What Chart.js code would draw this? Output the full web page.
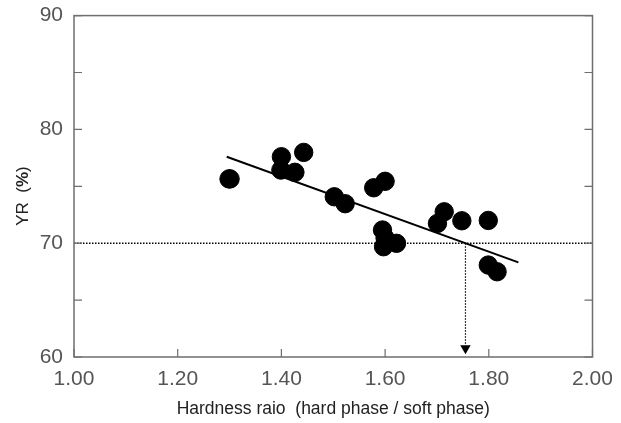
<!DOCTYPE html>
<html>
<head>
<meta charset="utf-8">
<script src="https://cdn.jsdelivr.net/npm/chart.js@4"></script>
<style>
    html, body { margin: 0; padding: 0; background: #fff; }
    #wrap { width: 621px; height: 423px; }
</style>
</head>
<body>
<div id="wrap"><canvas id="yrChart" width="621" height="423"></canvas></div>
<script>
// measured points: hardness ratio vs yield ratio
const hardnessRatio = [1.299, 1.301, 1.400, 1.399, 1.426, 1.443, 1.502, 1.523, 1.578, 1.600,
    1.595, 1.600, 1.622, 1.597, 1.714, 1.701, 1.748, 1.799, 1.799, 1.816];
const yieldRatio = [75.65, 75.65, 77.60, 76.43, 76.23, 77.98, 74.08, 73.47, 74.87, 75.44,
    71.16, 70.45, 69.99, 69.69, 72.76, 71.74, 71.97, 72.00, 68.08, 67.49];

// regression line end points
const fitX = [1.2945, 1.857];
const fitY = [77.60, 68.32];

// YR = 70 % criterion and the matching hardness ratio
const limitX = [1.00, 2.00];
const limitY = [70, 70];
const arrowX = [1.755, 1.755];
const arrowY = [70, 61.0];
const arrowHead = [{ x: 1.755, y: 60.76 }];

const xTicks = [1.00, 1.20, 1.40, 1.60, 1.80, 2.00];
const yTicks = [60, 65, 70, 75, 80, 85, 90];

const toPoints = (xs, ys) => xs.map((x, i) => ({ x: x, y: ys[i] }));

const tickFont = { family: "'Liberation Sans Narrow', 'Liberation Sans', Arial, sans-serif", size: 21 };
const axisGray = '#6e6e6e';

// frame with inward ticks + y title with bold %
const framePlugin = {
    id: 'frame',
    afterDatasetsDraw(chart) {
        const ctx = chart.ctx;
        const a = chart.chartArea;
        const xs = chart.scales.x, ys = chart.scales.y;
        ctx.save();
        ctx.strokeStyle = axisGray;
        ctx.lineWidth = 1.5;
        ctx.strokeRect(a.left, a.top, a.right - a.left, a.bottom - a.top);
        ctx.lineWidth = 1.2;
        ctx.beginPath();
        xTicks.forEach(v => {
            const px = xs.getPixelForValue(v);
            ctx.moveTo(px, a.bottom); ctx.lineTo(px, a.bottom - 8);
        });
        yTicks.forEach(v => {
            const py = ys.getPixelForValue(v);
            ctx.moveTo(a.left, py); ctx.lineTo(a.left + 8, py);
            ctx.moveTo(a.right, py); ctx.lineTo(a.right - 8, py);
        });
        ctx.stroke();

        // y title
        ctx.translate(23, 196);
        ctx.rotate(-Math.PI / 2);
        ctx.fillStyle = '#222';
        ctx.textBaseline = 'middle';
        const normal = "17px 'Liberation Sans', Arial, sans-serif";
        const bold = "bold 17px 'Liberation Sans', Arial, sans-serif";
        const parts = [['YR  (', normal], ['%', bold], [')', normal]];
        let total = 0;
        parts.forEach(p => { ctx.font = p[1]; total += ctx.measureText(p[0]).width; });
        let cx = -total / 2;
        parts.forEach(p => {
            ctx.font = p[1];
            ctx.fillText(p[0], cx, 0);
            cx += ctx.measureText(p[0]).width;
        });
        ctx.restore();
    }
};

const chart = new Chart(document.getElementById('yrChart'), {
    type: 'scatter',
    data: {
        datasets: [
            {
                label: 'YR',
                data: toPoints(hardnessRatio, yieldRatio),
                backgroundColor: '#000',
                borderColor: '#000',
                pointRadius: 9.2,
                pointBorderWidth: 1
            },
            {
                label: 'fit',
                type: 'line',
                data: toPoints(fitX, fitY),
                borderColor: '#000',
                borderWidth: 2,
                pointRadius: 0,
                fill: false
            },
            {
                label: 'limit',
                type: 'line',
                data: toPoints(limitX, limitY),
                borderColor: '#000',
                borderWidth: 1.5,
                borderDash: [1.5, 1.5],
                pointRadius: 0,
                fill: false
            },
            {
                label: 'arrow',
                type: 'line',
                data: toPoints(arrowX, arrowY),
                borderColor: '#000',
                borderWidth: 1.2,
                borderDash: [1.5, 1.5],
                pointRadius: 0,
                fill: false
            },
            {
                label: 'head',
                data: arrowHead,
                pointStyle: 'triangle',
                rotation: 180,
                pointRadius: 6,
                backgroundColor: '#000',
                borderColor: '#000',
                pointBorderWidth: 0
            }
        ]
    },
    options: {
        responsive: false,
        animation: false,
        layout: { padding: { top: 15.5, right: 28.5, left: 0, bottom: 0 } },
        plugins: {
            legend: { display: false },
            tooltip: { enabled: false }
        },
        scales: {
            x: {
                type: 'linear',
                min: 1.0,
                max: 2.0,
                grid: { display: false },
                border: { display: false },
                afterFit: s => { s.height = 66; },
                afterBuildTicks: s => { s.ticks = xTicks.map(v => ({ value: v })); },
                ticks: {
                    autoSkip: false,
                    maxRotation: 0,
                    padding: 2,
                    color: '#555',
                    font: tickFont,
                    callback: v => v.toFixed(2)
                },
                title: {
                    display: true,
                    text: 'Hardness raio  (hard phase / soft phase)',
                    color: '#222',
                    font: { family: "'Liberation Sans', Arial, sans-serif", size: 17.5 },
                    padding: { top: 0, bottom: 3 }
                }
            },
            y: {
                min: 60,
                max: 90,
                grid: { display: false },
                border: { display: false },
                afterFit: s => { s.width = 74; },
                afterBuildTicks: s => { s.ticks = yTicks.map(v => ({ value: v })); },
                ticks: {
                    autoSkip: false,
                    padding: 3,
                    color: '#555',
                    font: tickFont,
                    callback: v => (v % 10 === 0 ? String(v) : '')
                }
            }
        }
    },
    plugins: [framePlugin]
});
</script>
</body>
</html>
